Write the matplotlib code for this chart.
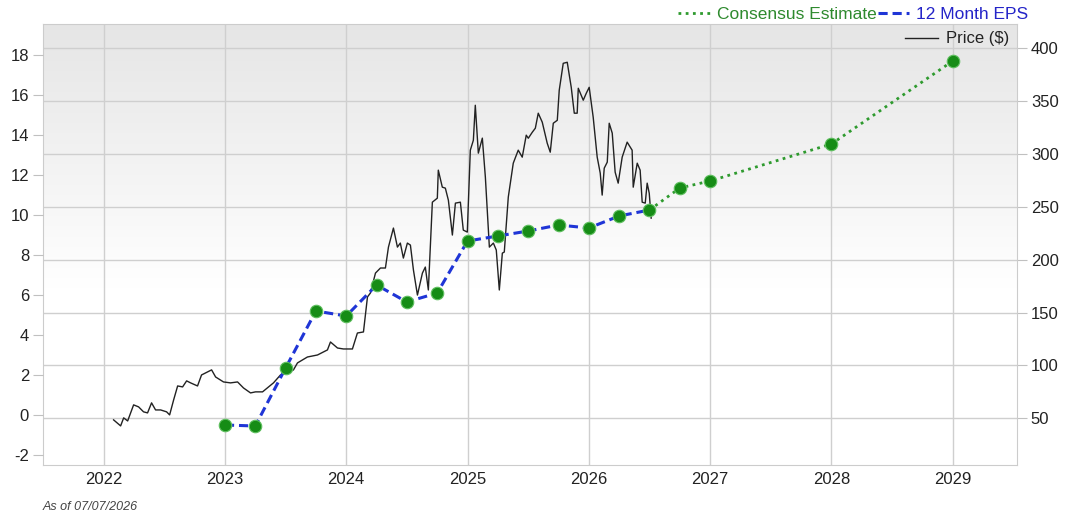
import matplotlib.pyplot as plt
import numpy as np

plt.rcParams['font.family'] = ['Liberation Sans', 'DejaVu Sans']
plt.rcParams['axes.unicode_minus'] = False

# quarterly EPS (left axis)
eps_x = [2023.0, 2023.25, 2023.5, 2023.75, 2024.0, 2024.25, 2024.5, 2024.75,
         2025.0, 2025.25, 2025.5, 2025.75, 2026.0, 2026.25, 2026.5]
eps_y = [-0.5, -0.55, 2.35, 5.2, 4.95, 6.5, 5.65, 6.1,
         8.7, 8.95, 9.2, 9.5, 9.35, 9.95, 10.25]

# consensus estimates
est_x = [2026.5, 2026.75, 2027.0, 2028.0, 2029.0]
est_y = [10.25, 11.35, 11.7, 13.55, 17.7]

# price (right axis)
price_x = [2022.082, 2022.140, 2022.165, 2022.198, 2022.247, 2022.288, 2022.329, 2022.362,
           2022.395, 2022.428, 2022.470, 2022.519, 2022.544, 2022.577, 2022.610, 2022.651,
           2022.684, 2022.717, 2022.774, 2022.807, 2022.840, 2022.890, 2022.923, 2022.988,
           2023.046, 2023.104, 2023.153, 2023.211, 2023.252, 2023.310, 2023.359, 2023.400,
           2023.458, 2023.516, 2023.565, 2023.598, 2023.680, 2023.763, 2023.845, 2023.870,
           2023.928, 2023.977, 2024.051, 2024.092, 2024.142, 2024.175, 2024.199, 2024.241,
           2024.282, 2024.323, 2024.348, 2024.389, 2024.422, 2024.446, 2024.471, 2024.504,
           2024.529, 2024.554, 2024.587, 2024.628, 2024.652, 2024.677, 2024.710, 2024.751,
           2024.759, 2024.792, 2024.817, 2024.842, 2024.875, 2024.900, 2024.941, 2024.965,
           2024.998, 2025.023, 2025.048, 2025.064, 2025.089, 2025.122, 2025.147, 2025.180,
           2025.213, 2025.237, 2025.262, 2025.287, 2025.303, 2025.336, 2025.377, 2025.418,
           2025.451, 2025.484, 2025.501, 2025.534, 2025.559, 2025.583, 2025.616, 2025.657,
           2025.682, 2025.707, 2025.740, 2025.756, 2025.789, 2025.822, 2025.855, 2025.880,
           2025.904, 2025.913, 2025.954, 2025.979, 2026.003, 2026.036, 2026.069, 2026.094,
           2026.110, 2026.127, 2026.152, 2026.168, 2026.193, 2026.217, 2026.242, 2026.275,
           2026.316, 2026.357, 2026.366, 2026.399, 2026.423, 2026.440, 2026.465, 2026.481,
           2026.498, 2026.514]
price_y = [48.4, 42.7, 50.3, 47.4, 62.6, 60.7, 56.0, 55.0,
           64.5, 57.8, 57.8, 56.0, 53.1, 67.3, 80.5, 79.6,
           85.3, 83.4, 80.5, 90.9, 92.8, 95.7, 89.0, 84.3,
           83.4, 84.3, 78.6, 73.9, 74.9, 74.9, 79.6, 83.4,
           90.9, 92.8, 95.7, 102.3, 107.9, 109.8, 114.6, 122.1,
           116.4, 115.5, 115.5, 130.6, 131.6, 164.7, 168.4, 187.3,
           192.1, 192.1, 211.9, 229.9, 211.9, 215.7, 201.5, 215.7,
           213.8, 190.2, 166.5, 187.3, 193.0, 171.3, 254.4, 258.2,
           284.7, 268.6, 267.7, 256.3, 223.3, 253.5, 254.4, 228.0,
           226.1, 303.6, 313.0, 346.1, 300.8, 315.0, 278.1, 211.9,
           215.7, 209.1, 171.3, 206.2, 207.2, 259.2, 291.3, 303.6,
           297.0, 317.8, 314.9, 320.6, 324.4, 338.6, 330.1, 310.2,
           301.7, 329.1, 331.9, 360.3, 385.8, 386.8, 363.1, 338.6,
           338.6, 362.2, 350.9, 357.5, 363.1, 334.8, 297.0, 281.9,
           261.1, 286.6, 292.3, 329.1, 319.7, 282.8, 272.4, 297.0,
           311.2, 303.6, 268.6, 291.3, 284.7, 254.4, 253.5, 272.4,
           262.9, 239.3]

year_ticks = [2022, 2023, 2024, 2025, 2026, 2027, 2028, 2029]
eps_ticks = [-2, 0, 2, 4, 6, 8, 10, 12, 14, 16, 18]
price_ticks = [50, 100, 150, 200, 250, 300, 350, 400]

fig = plt.figure(figsize=(10.68, 5.18), dpi=100)
ax = fig.add_axes([43 / 1068, 53 / 518, 974 / 1068, 441 / 518])
ax2 = ax.twinx()

# gradient background, light grey at top fading to white
t = np.clip(np.linspace(0, 1, 256) / 0.6, 0, 1)
shade = 0.90 + 0.10 * t
grad = np.dstack([shade, shade, shade]).reshape(-1, 1, 3)
ax.imshow(grad, extent=[0, 1, 0, 1], transform=ax.transAxes, aspect='auto',
          origin='upper', zorder=0)

ax.plot(price_x, price_y, color='#222222', lw=1.0, label='Price ($)', zorder=3)
ax.set_xlim(2021.5, 2029.53)
ax.set_ylim(5.7, 423)
ax.set_xticks(year_ticks)
ax.set_yticks(price_ticks)
ax.yaxis.tick_right()
ax.grid(True, color='#cfcfcf', lw=1.0, zorder=1)
ax.set_axisbelow(True)
ax.tick_params(axis='x', length=0, labelsize=12, colors='#222222', pad=5)
ax.tick_params(axis='y', length=7, color='#c0c0c0', labelsize=12, labelcolor='#222222', pad=3)
for s in ax.spines.values():
    s.set_color('#cccccc')

ax2.plot(est_x, est_y, color='#2e9a2e', lw=2, ls=(0, (1, 1.6)), zorder=3, label='Consensus Estimate')
ax2.plot(eps_x, eps_y, color='#1f35d6', lw=2.2, ls=(0, (3, 1.6)), zorder=4, label='12 Month EPS')
ax2.plot(eps_x + est_x[1:], eps_y + est_y[1:], ls='none', marker='o', ms=9,
         mfc='#168c16', mec='#5fbf5f', mew=0.8, zorder=5)
ax2.set_ylim(-2.5, 19.55)
ax2.set_yticks(eps_ticks)
ax2.yaxis.tick_left()
ax2.tick_params(axis='y', length=7, color='#c0c0c0', labelsize=12, labelcolor='#222222', pad=3)
for s in ax2.spines.values():
    s.set_visible(False)

ax.legend(loc='upper right', frameon=False, fontsize=12, handlelength=2.0,
          handletextpad=0.5, borderaxespad=0.05, labelcolor='#222222')
h, l = ax2.get_legend_handles_labels()
fig.legend(h, l, loc='upper right', bbox_to_anchor=(1038 / 1068, 1.005), ncol=2, frameon=False,
           fontsize=12.5, handlelength=1.8, handletextpad=0.4, columnspacing=0.1,
           labelcolor=['#2e8a2e', '#2424c8'], borderaxespad=0.15)

fig.text(43 / 1068, 1 - 507 / 518, 'As of 07/07/2026', fontsize=9, style='italic',
         color='#444444', va='center')

fig.savefig('out.png', dpi=100)
